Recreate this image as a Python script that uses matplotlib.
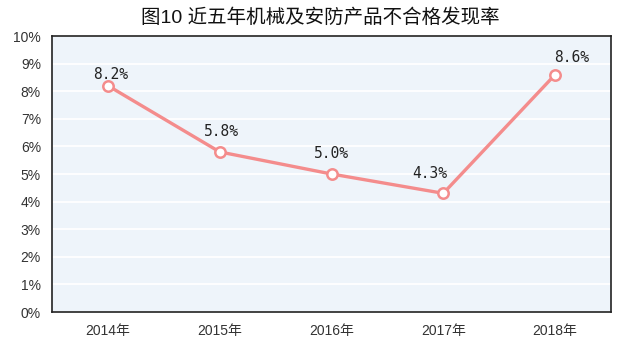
import matplotlib
matplotlib.use("Agg")
import matplotlib.pyplot as plt
from matplotlib.ticker import FuncFormatter

plt.rcParams['font.family'] = ['Liberation Sans', 'Noto Sans CJK SC', 'DejaVu Sans']

years = ["2014年", "2015年", "2016年", "2017年", "2018年"]
rates = [8.2, 5.8, 5.0, 4.3, 8.6]
title = "图10 近五年机械及安防产品不合格发现率"

# label placement (points) relative to each marker
label_dx = [2, 1, 0, -10, 12]
label_dy = [3, 9, 9, 9, 7]

line_color = "#F48C8C"

fig = plt.figure(figsize=(6.4, 3.5), dpi=100)
ax = fig.add_axes([52 / 640, 38 / 350, 559 / 640, 276 / 350])
ax.set_facecolor("#EEF4FA")

x = list(range(len(years)))
ax.plot(x, rates, color=line_color, lw=2.4, marker="o", ms=7.5,
        mfc="white", mec=line_color, mew=1.8, zorder=3, clip_on=False)

for xi, v, dx, dy in zip(x, rates, label_dx, label_dy):
    ax.annotate(f"{v:.1f}%", (xi, v), xytext=(dx, dy), textcoords="offset points",
                ha="center", va="bottom", fontsize=10.5,
                family=["DejaVu Sans Mono"], color="#222222")

ax.set_xlim(-0.5, 4.5)
ax.set_ylim(0, 10)
ax.set_xticks(x)
ax.set_xticklabels(years)
ax.set_yticks(range(0, 11))
ax.yaxis.set_major_formatter(FuncFormatter(lambda v, p: f"{int(v)}%"))
ax.tick_params(axis="both", length=0, labelsize=10, colors="#333333")
ax.tick_params(axis="y", pad=8)
ax.tick_params(axis="x", pad=9)

ax.grid(axis="y", color="white", lw=1.3)
ax.set_axisbelow(True)
for s in ax.spines.values():
    s.set_color("#222222")
    s.set_linewidth(1.2)

fig.text(0.5, 1 - 18 / 350, title, ha="center", va="center", fontsize=14,
         color="#111111")

fig.savefig("out.png", dpi=100)
